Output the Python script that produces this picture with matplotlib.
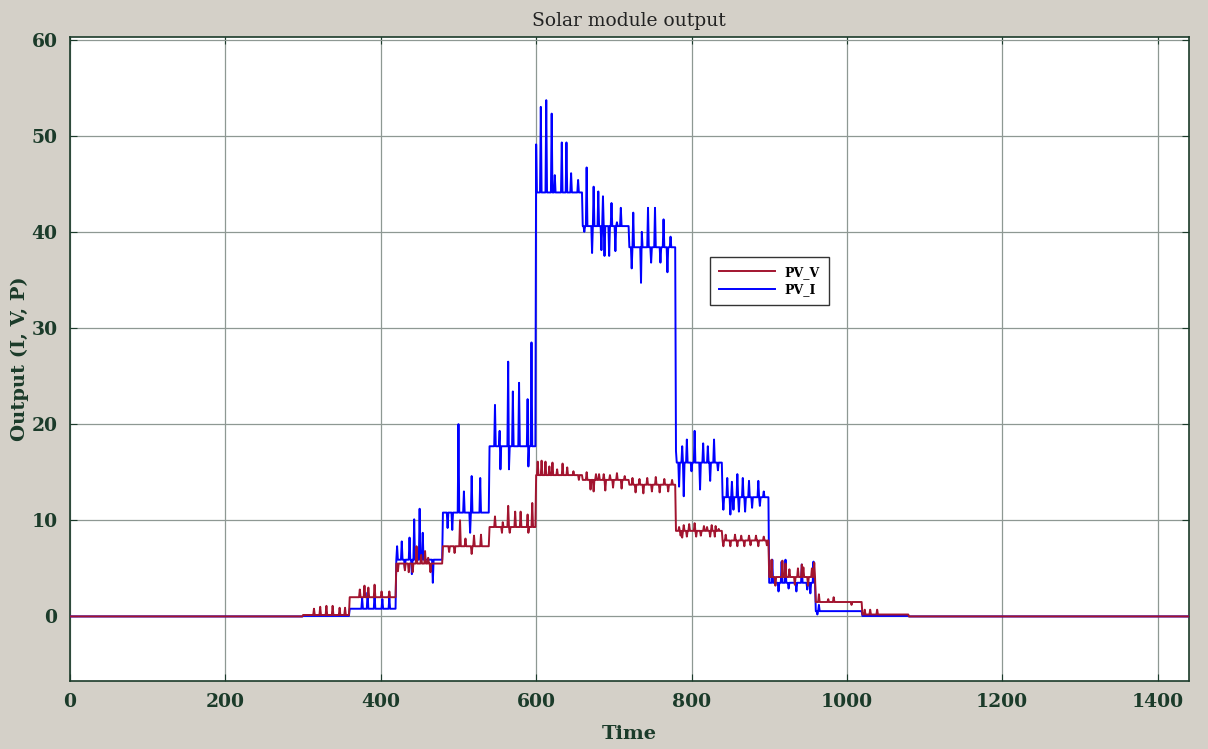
import matplotlib.pyplot as plt
import numpy as np

# time axis (minutes of the day) and hourly step edges
t = np.arange(0, 1441)
edges = [0, 300, 360, 420, 480, 540, 600, 660, 720, 780, 840, 900, 960, 1020, 1080, 1441]

# base level of each step
v_levels = [0, 0.15, 2.0, 5.5, 7.3, 9.3, 14.7, 14.2, 13.7, 8.9, 7.9, 4.1, 1.5, 0.2, 0]
i_levels = [0, 0.05, 0.8, 5.9, 10.8, 17.7, 44.1, 40.6, 38.4, 16.0, 12.4, 3.5, 0.55, 0.05, 0]

# spikes: (time, value)
v_spikes = [
    (314, 0.8), (322, 1.0), (330, 1.1), (338, 1.1), (347, 0.9), (354, 0.9),
    (373, 2.8), (379, 3.2), (384, 3.0), (392, 3.3), (401, 2.6), (411, 2.6),
    (422, 4.7), (431, 4.8), (436, 4.6), (441, 4.6), (446, 7.3), (452, 6.4), (457, 6.8), (461, 6.1), (464, 4.6),
    (488, 6.7), (495, 6.6), (502, 10.0), (509, 8.1), (517, 6.5), (520, 8.4), (529, 8.5),
    (547, 10.4), (556, 8.7), (557, 9.8), (564, 11.5), (566, 8.7), (573, 10.9), (580, 10.9), (589, 10.6), (590, 8.7), (595, 11.8),
    (602, 16.1), (607, 16.2), (612, 16.1), (617, 15.6), (621, 16.0), (627, 15.3), (634, 15.9), (640, 15.5), (648, 15.1), (655, 14.2),
    (665, 15.0), (670, 13.2), (674, 13.0), (677, 14.8), (681, 14.8), (687, 14.8), (689, 13.1), (695, 14.7), (699, 13.4), (704, 14.9), (710, 13.3), (714, 14.6),
    (724, 14.4), (728, 12.9), (733, 14.3), (738, 12.8), (743, 14.4), (749, 13.0), (754, 14.5), (759, 12.9), (765, 14.3), (770, 13.0), (775, 14.2),
    (784, 9.3), (786, 8.4), (788, 8.2), (790, 9.5), (794, 8.3), (797, 9.6), (804, 9.7), (806, 8.3), (812, 8.4), (816, 9.4), (820, 9.3), (824, 8.3), (826, 9.5), (830, 8.3), (831, 9.4), (835, 9.1),
    (841, 7.3), (844, 8.5), (850, 7.3), (856, 8.5), (859, 7.3), (864, 8.4), (868, 7.3), (874, 8.4), (876, 7.4), (883, 8.4), (886, 7.3), (893, 8.3), (897, 7.4),
    (903, 5.9), (908, 3.2), (917, 5.8), (921, 5.5), (926, 4.9), (933, 3.3), (937, 5.0), (942, 5.4), (944, 5.1), (950, 3.2), (955, 5.0), (958, 5.6),
    (964, 2.3), (976, 1.8), (983, 2.0), (1006, 1.2),
    (1023, 0.7), (1030, 0.7), (1039, 0.7),
]
i_spikes = [
    (376, 1.9), (383, 2.5), (392, 2.3), (402, 1.8), (411, 1.9),
    (421, 7.3), (427, 7.8), (431, 5.0), (437, 8.2), (440, 4.4), (443, 10.1), (450, 11.2), (454, 8.7), (467, 3.5),
    (486, 9.2), (492, 9.0), (500, 20.0), (507, 13.0), (515, 8.7), (517, 14.6), (528, 14.4),
    (547, 22.0), (553, 19.3), (554, 15.3), (564, 26.5), (565, 15.3), (570, 23.4), (578, 24.3), (589, 22.6), (590, 15.6), (594, 28.5),
    (600, 49.1), (606, 53.0), (613, 53.7), (620, 52.3), (624, 45.9), (633, 49.3), (639, 49.3), (645, 46.1), (654, 45.4),
    (662, 40.0), (665, 46.7), (672, 37.8), (674, 44.7), (680, 44.2), (684, 38.1), (686, 43.7), (688, 37.5), (694, 37.5), (697, 43.0), (702, 38.0), (704, 41.0), (709, 42.5),
    (723, 36.2), (725, 42.0), (735, 34.7), (736, 40.0), (744, 42.5), (748, 36.8), (753, 42.5), (760, 36.8), (764, 41.3), (769, 35.8), (773, 39.5),
    (780, 17.2), (784, 13.5), (788, 17.7), (790, 12.5), (794, 18.4), (800, 15.1), (804, 19.3), (811, 13.2), (815, 18.0), (821, 17.7), (824, 14.1), (829, 18.4), (834, 15.2),
    (841, 11.1), (846, 14.4), (850, 10.6), (852, 14.0), (854, 11.1), (859, 14.8), (861, 10.9), (866, 14.4), (869, 10.9), (874, 14.1), (878, 11.3), (886, 14.1), (888, 11.5), (893, 13.0),
    (904, 5.9), (912, 2.6), (916, 5.7), (921, 5.9), (925, 2.9), (935, 2.6), (942, 5.4), (949, 2.8), (953, 2.4), (957, 5.7),
    (962, 0.2), (964, 1.2),
]


def build(levels, spikes):
    y = np.repeat(np.array(levels, dtype=float), np.diff(edges))
    for ts, val in spikes:
        y[ts] = val
    return y


pv_v = build(v_levels, v_spikes)
pv_i = build(i_levels, i_spikes)

txt = "#1b3b2a"
bg = "#d4d0c8"
plt.rcParams["font.family"] = "DejaVu Serif"

fig = plt.figure(figsize=(12.08, 7.49), dpi=100, facecolor=bg)
ax = fig.add_axes([0.058, 0.091, 0.926, 0.860])

l_i, = ax.plot(t, pv_i, color="#0000ff", lw=1.4, label="PV_I", zorder=3)
l_v, = ax.plot(t, pv_v, color="#a2142f", lw=1.4, label="PV_V", zorder=4)

ax.set_xlim(0, 1440)
ax.set_ylim(-6.7, 60.3)
ax.set_xticks(np.arange(0, 1401, 200))
ax.set_yticks(np.arange(0, 61, 10))
ax.grid(True, color="#8e9893", lw=0.9)
ax.set_axisbelow(True)
ax.tick_params(direction="in", length=5, colors=txt, labelsize=13.5,
               top=True, right=True, pad=9)
for lab in ax.get_xticklabels() + ax.get_yticklabels():
    lab.set_fontweight("bold")
for s in ax.spines.values():
    s.set_color(txt)
    s.set_linewidth(1.2)

ax.set_title("Solar module output", fontsize=13.5, color="#222222", pad=8)
ax.set_xlabel("Time", fontsize=14, fontweight="bold", color=txt, labelpad=10)
ax.set_ylabel("Output (I, V, P)", fontsize=14, fontweight="bold", color=txt, labelpad=2)

leg = ax.legend(handles=[l_v, l_i], loc="upper left", bbox_to_anchor=(0.572, 0.658),
                borderaxespad=0, prop={"size": 9, "weight": "bold"}, handlelength=4.5,
                fancybox=False, edgecolor="#333333", framealpha=1,
                borderpad=0.7, labelspacing=0.35)
leg.get_frame().set_linewidth(1.0)

fig.savefig("out.png", dpi=100, facecolor=bg)
